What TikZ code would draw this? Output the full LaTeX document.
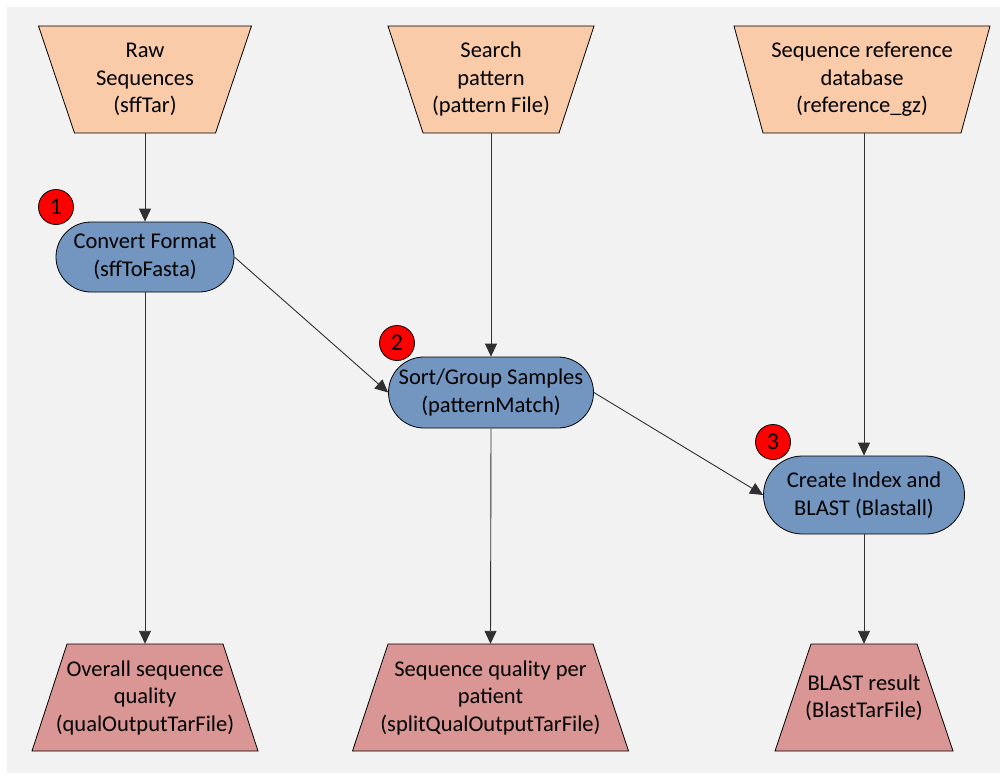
\documentclass[tikz,border=0pt]{standalone}
\usepackage{fontspec}
\setmainfont{Carlito}
\usetikzlibrary{arrows.meta}

\definecolor{bgfill}{HTML}{F2F2F2}
\definecolor{inputfill}{HTML}{FACBA8}
\definecolor{procfill}{HTML}{7396C1}
\definecolor{outputfill}{HTML}{D99694}
\definecolor{linegray}{HTML}{303030}

% trapezoid box: name, centre x, top y, bottom y, half top width, half bottom width, fill, text
\newcommand\trapbox[8]{%
  \filldraw[fill=#7, draw=black, line width=0.8pt, line join=miter]
    ({#2-#5},#3) -- ({#2+#5},#3) -- ({#2+#6},#4) -- ({#2-#6},#4) -- cycle;
  \node[textbox, minimum width={2*max(#5,#6)}, minimum height={#4-#3}]
    (#1) at (#2,{(#3+#4)/2}) {#8};
}

\begin{document}
\begin{tikzpicture}[x=1pt, y=-1pt,
  textbox/.style={inner sep=0pt, align=center, font=\fontsize{22.5}{27.5}\selectfont},
  procbox/.style={draw=black, fill=procfill, line width=0.8pt, inner sep=0pt,
    align=center, font=\fontsize{22.5}{27.5}\selectfont},
  badge/.style={circle, draw=black, fill=red, line width=0.8pt, minimum size=35pt,
    inner sep=0pt, font=\fontsize{24}{26}\selectfont},
  conn/.style={draw=linegray, line width=0.9pt, -{Triangle[length=13pt, width=12pt]}}
]
\useasboundingbox (0,0) rectangle (1000,773);
\fill[bgfill] (7,7) rectangle (1000,773);

% inputs
\trapbox{raw}{145}{26}{133}{106.5}{70.5}{inputfill}{Raw\\Sequences\\(sffTar)}
\trapbox{search}{491}{26}{133}{103}{68}{inputfill}{Search\\pattern\\(pattern File)}
\trapbox{refdb}{862}{26}{133}{128}{99}{inputfill}{Sequence reference\\database\\(reference\_gz)}

% processing steps
\node[procbox, minimum width=178pt, minimum height=70pt, rounded corners=35pt]
  (conv) at (145,257) {Convert Format\\(sffToFasta)};
\node[procbox, minimum width=205pt, minimum height=71pt, rounded corners=35.5pt]
  (sort) at (491,392.5) {Sort/Group Samples\\(patternMatch)};
\node[procbox, minimum width=201pt, minimum height=78pt, rounded corners=39pt]
  (blast) at (864,495) {Create Index and\\BLAST (Blastall)};

% step numbers
\node[badge] (n1) at (56,207) {1};
\node[badge] (n2) at (397,343) {2};
\node[badge] (n3) at (773,442) {3};

% outputs
\trapbox{qual}{145}{644}{751}{78}{113}{outputfill}{Overall sequence\\quality\\(qualOutputTarFile)}
\trapbox{split}{490.5}{644}{751}{102.5}{138}{outputfill}{Sequence quality per\\patient\\(splitQualOutputTarFile)}
\trapbox{result}{864}{644}{751}{53}{89}{outputfill}{BLAST result\\(BlastTarFile)}

% data flow
\draw[conn] (raw.south) -- (conv.north);
\draw[conn] (search.south) -- (sort.north);
\draw[conn] (refdb.south -| blast.north) -- (blast.north);
\draw[conn] (conv.east) -- (sort.west);
\draw[conn] (sort.east) -- (blast.west);
\draw[conn] (conv.south) -- (qual.north);
\draw[conn] (sort.south) -- (split.north);
\draw[conn] (blast.south) -- (result.north);
\end{tikzpicture}
\end{document}
